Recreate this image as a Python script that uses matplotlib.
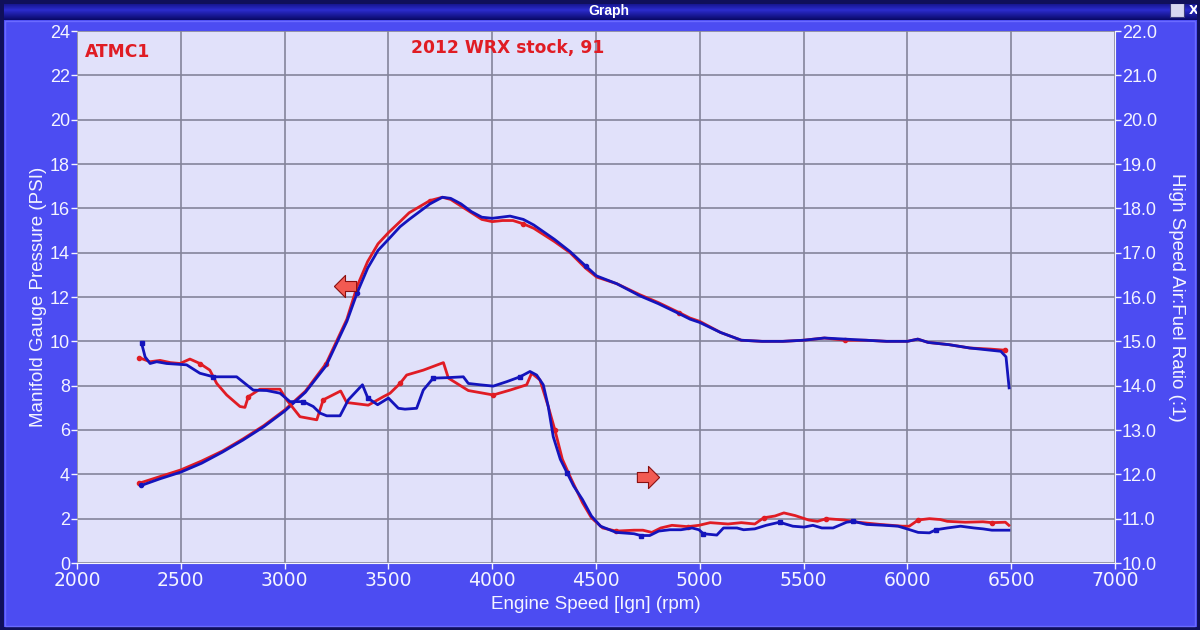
import numpy as np
import matplotlib
matplotlib.use("Agg")
from matplotlib import pyplot as plt
from matplotlib.patches import Rectangle
from matplotlib.path import Path

# boost (PSI, left axis)
boost_red_rpm = [2300, 2400, 2500, 2600, 2700, 2800, 2900, 3000, 3100, 3200, 3250, 3300, 3350,
                 3400, 3450, 3500, 3556, 3600, 3700, 3760, 3800, 3850, 3900, 3950, 4000, 4050,
                 4100, 4150, 4200, 4300, 4375, 4450, 4503, 4600, 4712, 4800, 4900, 4953, 5000,
                 5100, 5200, 5300, 5400, 5500, 5600, 5700, 5800, 5900, 6000, 6050, 6100, 6200,
                 6300, 6400, 6470]
boost_red = [3.6, 3.9, 4.2, 4.6, 5.05, 5.6, 6.2, 6.9, 7.75, 9.0, 10.0, 11.0, 12.5,
             13.6, 14.4, 14.9, 15.4, 15.8, 16.35, 16.5, 16.4, 16.1, 15.8, 15.5, 15.4, 15.45,
             15.45, 15.3, 15.1, 14.5, 14.0, 13.3, 12.9, 12.6, 12.1, 11.75, 11.3, 11.05, 10.9,
             10.4, 10.05, 10.0, 10.0, 10.05, 10.15, 10.05, 10.05, 10.0, 10.0, 10.1, 9.95, 9.85,
             9.7, 9.65, 9.6]

boost_blue_rpm = [2310, 2400, 2500, 2600, 2700, 2800, 2900, 3000, 3100, 3200, 3250, 3300, 3350,
                  3400, 3450, 3500, 3556, 3600, 3700, 3760, 3800, 3850, 3900, 3950, 4000, 4086,
                  4150, 4200, 4300, 4375, 4450, 4503, 4600, 4712, 4800, 4900, 4953, 5000,
                  5100, 5200, 5300, 5400, 5500, 5600, 5700, 5800, 5900, 6000, 6050, 6100, 6200,
                  6300, 6400, 6450, 6475, 6490]
boost_blue = [3.5, 3.8, 4.1, 4.5, 5.0, 5.55, 6.15, 6.85, 7.7, 8.9, 9.9, 10.9, 12.2,
              13.3, 14.1, 14.6, 15.17, 15.5, 16.2, 16.5, 16.45, 16.2, 15.85, 15.6, 15.55, 15.65,
              15.5, 15.25, 14.6, 14.05, 13.4, 12.95, 12.6, 12.05, 11.7, 11.25, 11.0, 10.85,
              10.4, 10.05, 10.0, 10.0, 10.05, 10.15, 10.1, 10.05, 10.0, 10.0, 10.1, 9.95, 9.85,
              9.7, 9.6, 9.55, 9.3, 7.9]

# air:fuel ratio (right axis)
afr_red_rpm = [2300, 2352, 2400, 2450, 2496, 2544, 2592, 2640, 2673, 2721, 2785, 2809, 2825, 2881,
               2978, 3010, 3074, 3155, 3186, 3270, 3299, 3403, 3475, 3508, 3556, 3588, 3668, 3765,
               3789, 3885, 4005, 4086, 4166, 4190, 4230, 4270, 4302, 4338, 4381, 4435, 4478, 4532,
               4597, 4683, 4726, 4769, 4812, 4866, 4942, 4996, 5050, 5136, 5200, 5265, 5308, 5362,
               5405, 5459, 5524, 5567, 5610, 5696, 5761, 5869, 5976, 6009, 6052, 6106, 6159, 6192,
               6278, 6364, 6407, 6472, 6489]
afr_red = [14.63, 14.54, 14.57, 14.52, 14.5, 14.6, 14.5, 14.35, 14.05, 13.79, 13.53, 13.51, 13.75, 13.92,
           13.92, 13.68, 13.3, 13.23, 13.68, 13.88, 13.62, 13.56, 13.75, 13.83, 14.05, 14.24, 14.35, 14.52,
           14.17, 13.89, 13.79, 13.9, 14.02, 14.28, 14.13, 13.53, 13.0, 12.34, 11.89, 11.36, 11.02, 10.79,
           10.72, 10.74, 10.74, 10.69, 10.79, 10.85, 10.82, 10.85, 10.91, 10.88, 10.91, 10.88, 11.02, 11.06,
           11.13, 11.07, 10.97, 10.94, 11.0, 10.97, 10.92, 10.87, 10.83, 10.83, 10.97, 11.0, 10.98, 10.94,
           10.92, 10.93, 10.91, 10.92, 10.85]

afr_blue_rpm = [2311, 2328, 2352, 2384, 2432, 2528, 2592, 2657, 2769, 2817, 2849, 2914, 2978, 3026,
                3090, 3138, 3171, 3203, 3267, 3307, 3375, 3401, 3448, 3500, 3548, 3580, 3636, 3668,
                3716, 3781, 3861, 3885, 3941, 4005, 4070, 4134, 4182, 4214, 4246, 4270, 4294, 4328,
                4360, 4392, 4435, 4478, 4522, 4597, 4683, 4715, 4759, 4802, 4856, 4909, 4963, 4996,
                5017, 5082, 5114, 5179, 5211, 5265, 5319, 5384, 5448, 5502, 5545, 5588, 5642, 5707,
                5739, 5804, 5890, 5955, 5998, 6052, 6106, 6138, 6192, 6256, 6321, 6364, 6407, 6489]
afr_blue = [14.96, 14.65, 14.5, 14.54, 14.5, 14.47, 14.28, 14.2, 14.2, 14.02, 13.9, 13.89, 13.83, 13.64,
            13.64, 13.53, 13.38, 13.32, 13.32, 13.68, 14.02, 13.72, 13.57, 13.72, 13.49, 13.47, 13.49, 13.9,
            14.17, 14.18, 14.2, 14.05, 14.02, 13.99, 14.09, 14.2, 14.32, 14.24, 14.02, 13.53, 12.85, 12.34,
            12.04, 11.74, 11.43, 11.06, 10.83, 10.69, 10.66, 10.62, 10.62, 10.72, 10.75, 10.75, 10.79, 10.75,
            10.66, 10.63, 10.79, 10.79, 10.75, 10.77, 10.85, 10.92, 10.83, 10.81, 10.85, 10.79, 10.79, 10.92,
            10.94, 10.87, 10.85, 10.83, 10.77, 10.69, 10.68, 10.75, 10.79, 10.83, 10.79, 10.77, 10.74, 10.74]

psi_ticks = list(range(0, 25, 2))
afr_ticks = [10.0 + i for i in range(13)]
rpm_ticks = list(range(2000, 7001, 500))

BG = "#4c4cf2"
PLOT_BG = "#e1e1fa"
RED = "#e01c24"
BLUE = "#1414bc"
WHITE = "#f4f4ff"

fig = plt.figure(figsize=(12, 6.3), dpi=100, facecolor=BG)

# window title bar
tb = fig.add_axes([0, 1 - 20 / 630, 1, 20 / 630])
grad = np.concatenate([np.linspace(0.0, 1.0, 10), np.linspace(1.0, 0.0, 10)]).reshape(-1, 1)
tb.imshow(grad, aspect="auto", cmap=matplotlib.colors.LinearSegmentedColormap.from_list(
    "tb", ["#0a0a6a", "#2a2ac8"]), extent=[0, 1, 0, 1])
tb.text(0.507, 0.45, "Graph", color="white", ha="center", va="center", fontsize=10,
        family="Liberation Sans", weight="bold")
tb.add_patch(Rectangle((0.975, 0.15), 0.012, 0.7, facecolor="#d8d8f0", edgecolor="#404080", lw=0.8))
tb.text(0.995, 0.45, "X", color="white", ha="center", va="center", fontsize=9, weight="bold")
tb.set_axis_off()

# outer frame
fig.patches.append(Rectangle((0, 0), 1, 1, transform=fig.transFigure, fill=False,
                             edgecolor="#10105a", lw=5))
fig.patches.append(Rectangle((0.004, 0.006), 0.992, 0.96, transform=fig.transFigure, fill=False,
                             edgecolor="#6a6aff", lw=1.0))

ax = fig.add_axes([77 / 1200, 1 - 563 / 630, 1038 / 1200, 532 / 630])
ax.set_facecolor(PLOT_BG)
ax2 = ax.twinx()

ax.set_xlim(2000, 7000)
ax.set_ylim(0, 24)
ax2.set_ylim(10, 22)
ax.set_xticks(rpm_ticks)
ax.set_yticks(psi_ticks)
ax2.set_yticks(afr_ticks)
ax2.set_yticklabels(["%.1f" % v for v in afr_ticks])
ax.grid(True, color="#84849a", lw=1.2)
ax.set_axisbelow(True)

for a in (ax, ax2):
    for s in a.spines.values():
        s.set_visible(False)
    a.tick_params(colors=WHITE, length=4, width=1, pad=1)

ax.tick_params(axis="x", labelsize=13.5, pad=2)
ax.tick_params(axis="y", labelsize=13)
ax2.tick_params(axis="y", labelsize=13)
for lab in ax.get_yticklabels() + ax2.get_yticklabels():
    lab.set_family("Liberation Sans")
for lab in ax.get_xticklabels():
    lab.set_family("DejaVu Sans")
ax.spines["right"].set_visible(True)
ax.spines["right"].set_color(WHITE)
ax.spines["bottom"].set_visible(True)
ax.spines["bottom"].set_color(WHITE)

ax.set_xlabel("Engine Speed [Ign] (rpm)", color=WHITE, fontsize=13.5, family="Liberation Sans",
              labelpad=4)
ax.set_ylabel("Manifold Gauge Pressure (PSI)", color=WHITE, fontsize=13.5, family="Liberation Sans",
              labelpad=2)
ax2.set_ylabel("High Speed Air:Fuel Ratio (:1)", color=WHITE, fontsize=13.5, family="Liberation Sans",
               rotation=270, labelpad=20)

ax.plot(boost_red_rpm, boost_red, color=RED, lw=2, marker="o", ms=3, markevery=9)
ax.plot(boost_blue_rpm, boost_blue, color=BLUE, lw=2, marker="o", ms=3, markevery=[0, 12, 30])
ax2.plot(afr_red_rpm, afr_red, color=RED, lw=2, marker="o", ms=3, markevery=6)
ax2.plot(afr_blue_rpm, afr_blue, color=BLUE, lw=2, marker="s", ms=3, markevery=7)

# little block arrows pointing at each curve's axis
left_arrow = Path([(-1, 0), (0, 1), (0, 0.45), (1, 0.45), (1, -0.45), (0, -0.45), (0, -1), (-1, 0)])
right_arrow = Path([(1, 0), (0, 1), (0, 0.45), (-1, 0.45), (-1, -0.45), (0, -0.45), (0, -1), (1, 0)])
ax.plot([3290], [12.5], marker=left_arrow, ms=16, mfc="#f25a52", mec="#8a1010", mew=0.8)
ax.plot([4750], [3.9], marker=right_arrow, ms=16, mfc="#f25a52", mec="#8a1010", mew=0.8)

ax.text(0.008, 0.977, "ATMC1", transform=ax.transAxes, color=RED, fontsize=12.3, weight="bold",
        va="top", ha="left")
ax.text(0.415, 0.985, "2012 WRX stock, 91", transform=ax.transAxes, color=RED, fontsize=12.3,
        weight="bold", va="top", ha="center")

fig.savefig("out.png", dpi=100, facecolor=BG)
